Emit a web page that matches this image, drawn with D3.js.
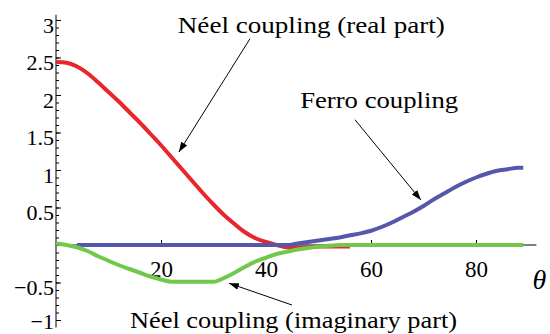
<!DOCTYPE html>
<html>
<head>
<meta charset="utf-8">
<script src="https://cdn.jsdelivr.net/npm/d3@7"></script>
<style>
  body { margin: 0; background: #fff; }
  svg text { font-family: 'Liberation Serif', serif; }
</style>
</head>
<body>
<div id="vizHolder"></div>
<script>
// theta in degrees
var thetaNeel = [0,2,4,6,8,10,12,14,16,18,20,22,24,26,28,30,32,34,36,38,40,42,44,46,48,50,52,54,56];
var neelReal  = [2.44,2.43,2.38,2.29,2.17,2.04,1.91,1.77,1.63,1.48,1.33,1.17,1.01,0.85,0.69,0.54,0.40,0.28,0.17,0.09,0.04,0.0,-0.03,-0.04,-0.03,-0.02,-0.02,-0.02,-0.02];

var thetaFerro = [4,6,8,10,12,14,16,18,20,22,24,26,28,30,32,34,36,38,40,42,44,46,48,50,52,54,56,58,60,62,64,66,68,70,72,74,76,78,80,82,84,86,88,89];
var ferro      = [0,0,0,0,0,0,0,0,0,0,0,0,0,0,0,0,0,0,0,0,0,0.02,0.04,0.06,0.08,0.10,0.13,0.155,0.19,0.24,0.30,0.37,0.44,0.52,0.61,0.69,0.77,0.84,0.90,0.95,0.99,1.01,1.03,1.03];

var thetaImag = [0,2,4,6,8,10,12,14,16,18,20,22,24,26,28,30,32,34,36,38,40,42,44,46,48,50,52,54,56,58,60,62,64,66,68,70,72,74,76,78,80,82,84,86,88,89];
var neelImag  = [0.02,0.0,-0.03,-0.08,-0.15,-0.21,-0.27,-0.32,-0.37,-0.42,-0.46,-0.49,-0.49,-0.49,-0.49,-0.49,-0.44,-0.37,-0.29,-0.22,-0.17,-0.12,-0.09,-0.06,-0.04,-0.02,-0.01,0,0,0,0,0,0,0,0,0,0,0,0,0,0,0,0,0,0,0];

var xTicks = [20, 40, 60, 80];
var yTicks = [-1, -0.5, 0.5, 1, 1.5, 2, 2.5, 3];
var yTickLabels = ['\u22121', '\u22120.5', '0.5', '1', '1.5', '2', '2.5', '3'];

// labels: text, anchor (theta, value), arrow from -> to in data units
var labels = [
	{ text: 'N\u00e9el coupling (real part)', t: 23.2, v: 2.83, w: 267 },
	{ text: 'Ferro coupling', t: 46.5, v: 1.83, w: 158 },
	{ text: 'N\u00e9el coupling (imaginary part)', t: 14.1, v: -1.11, w: 327 }
];
var arrows = [
	{ t0: 36.95, v0: 2.75, t1: 23.4, v1: 1.24 },
	{ t0: 56.95, v0: 1.67, t1: 69.5, v1: 0.60 },
	{ t0: 44.95, v0: -0.80, t1: 32.95, v1: -0.51 }
];

var width = 550, height = 334,
	serif = 'Liberation Serif';

var x = d3.scaleLinear().domain([0, 90]).range([56, 528.5]);
var y = d3.scaleLinear().domain([-1, 3]).range([320, 20]);

var svg = d3.select('#vizHolder').append('svg')
	.attr('width', width)
	.attr('height', height)
	.attr('font-family', serif);

svg.append('defs').append('marker')
	.attr('id', 'head')
	.attr('markerUnits', 'userSpaceOnUse')
	.attr('viewBox', '0 0 10 10')
	.attr('refX', 10).attr('refY', 5)
	.attr('markerWidth', 10).attr('markerHeight', 10)
	.attr('orient', 'auto')
	.append('path')
	.attr('d', 'M0,1.5 L10,5 L0,8.5 Z')
	.attr('fill', '#000');

// minor y ticks
var minor = d3.range(-10, 31).map(function(d) { return d / 10; });
svg.append('g')
	.attr('transform', 'translate(' + x(0) + ',0)')
	.call(d3.axisLeft(y).tickValues(minor).tickSize(-3).tickFormat(''))
	.call(function(g) { g.select('.domain').remove(); });

// major y ticks + labels
var yAxis = svg.append('g')
	.attr('transform', 'translate(' + x(0) + ',0)')
	.call(d3.axisLeft(y).tickValues(yTicks).tickSize(-5).tickPadding(2)
		.tickFormat(function(d, i) { return yTickLabels[i]; }));
yAxis.select('.domain').remove();
yAxis.attr('font-family', serif).attr('font-size', 22);
yAxis.selectAll('text')
	.attr('dy', function(d) { return d === -1 ? '0.4em' : '0.55em'; });

// x ticks + labels
var xAxis = svg.append('g')
	.attr('transform', 'translate(0,' + y(0) + ')')
	.call(d3.axisBottom(x).tickValues(xTicks).tickSize(-5).tickPadding(16));
xAxis.select('.domain').remove();
xAxis.attr('font-family', serif).attr('font-size', 23);

// axis lines
svg.append('line')
	.attr('x1', x(0)).attr('x2', x(0))
	.attr('y1', y(-1.1)).attr('y2', y(3.07))
	.attr('stroke', '#000');
svg.append('line')
	.attr('x1', x(0)).attr('x2', x(91.5))
	.attr('y1', y(0)).attr('y2', y(0))
	.attr('stroke', '#000');

svg.append('text')
	.attr('x', x(91.5) - 4)
	.attr('y', y(0) + 44)
	.attr('font-size', 28)
	.attr('font-style', 'italic')
	.text('\u03b8');

var line = d3.line()
	.x(function(d) { return x(d[0]); })
	.y(function(d) { return y(d[1]); })
	.curve(d3.curveMonotoneX);

function zip(a, b) { return a.map(function(d, i) { return [d, b[i]]; }); }

var series = [
	{ pts: zip(thetaNeel, neelReal), color: '#e8262c' },
	{ pts: zip(thetaFerro, ferro), color: '#5656ab' },
	{ pts: zip(thetaImag, neelImag), color: '#72c84a' }
];

svg.selectAll('path.curve')
	.data(series)
	.enter()
	.append('path')
	.attr('class', 'curve')
	.attr('d', function(d) { return line(d.pts); })
	.attr('fill', 'none')
	.attr('stroke', function(d) { return d.color; })
	.attr('stroke-width', 4);

svg.selectAll('line.arrow')
	.data(arrows)
	.enter()
	.append('line')
	.attr('class', 'arrow')
	.attr('x1', function(d) { return x(d.t0); })
	.attr('y1', function(d) { return y(d.v0); })
	.attr('x2', function(d) { return x(d.t1); })
	.attr('y2', function(d) { return y(d.v1); })
	.attr('stroke', '#000')
	.attr('stroke-width', 1)
	.attr('marker-end', 'url(#head)');

svg.selectAll('text.note')
	.data(labels)
	.enter()
	.append('text')
	.attr('class', 'note')
	.attr('x', function(d) { return x(d.t); })
	.attr('y', function(d) { return y(d.v); })
	.attr('textLength', function(d) { return d.w; })
	.attr('lengthAdjust', 'spacingAndGlyphs')
	.attr('font-size', 23)
	.text(function(d) { return d.text; });
</script>
</body>
</html>
